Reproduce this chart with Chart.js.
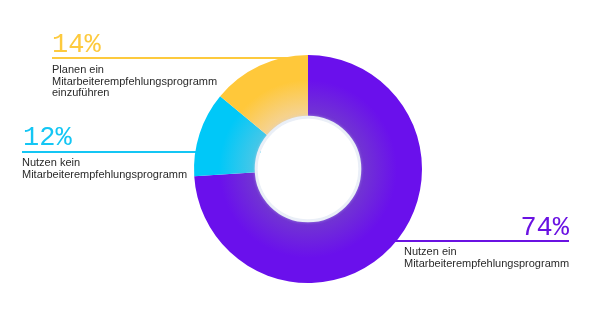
<!DOCTYPE html>
<html><head><meta charset="utf-8">
<script src="https://cdn.jsdelivr.net/npm/chart.js@4.4.0/dist/chart.umd.min.js"></script>
<style>html,body{margin:0;padding:0;background:#fff}#wrap{width:605px;height:311px}</style>
</head><body><div id="wrap"><canvas id="c" width="605" height="311"></canvas></div>
<script>
const categories = ['Nutzen ein Mitarbeiterempfehlungsprogramm', 'Nutzen kein Mitarbeiterempfehlungsprogramm', 'Planen ein Mitarbeiterempfehlungsprogramm einzuführen'];
const labelLines = [['Nutzen ein','Mitarbeiterempfehlungsprogramm'], ['Nutzen kein','Mitarbeiterempfehlungsprogramm'], ['Planen ein','Mitarbeiterempfehlungsprogramm','einzuführen']];
const values = [74, 12, 14];
const outerColors = ['#6a10ec', '#00c8f8', '#ffc83a'];
const innerColors = ['#7238d0', '#4cc7e6', '#f4d49c'];
const lineColors = ['#6a12e2', '#14c6f4', '#fdca3e'];
const CUTOUT = 0.45;

function grad(ctx) {
  const chart = ctx.chart;
  const a = chart.chartArea;
  if (!a) return outerColors[ctx.dataIndex];
  const cx = (a.left + a.right) / 2, cy = (a.top + a.bottom) / 2;
  const R = Math.min(a.right - a.left, a.bottom - a.top) / 2;
  const g = chart.ctx.createRadialGradient(cx, cy, R * CUTOUT, cx, cy, R);
  g.addColorStop(0, innerColors[ctx.dataIndex]);
  g.addColorStop(0.6, outerColors[ctx.dataIndex]);
  g.addColorStop(1, outerColors[ctx.dataIndex]);
  return g;
}

const callouts = {
  id: 'callouts',
  beforeDatasetsDraw(chart) {
    const el = chart.getDatasetMeta(0).data[0];
    const cx = el.x, cy = el.y;
    const c = chart.ctx;
    c.save();
    c.lineWidth = 2;
    const segs = [
      {y: cy + 72, x1: cx, x2: 569},
      {y: cy - 17, x1: 22, x2: cx},
      {y: cy - 111, x1: 52, x2: cx}
    ];
    segs.forEach((s, i) => {
      c.strokeStyle = lineColors[i];
      c.beginPath(); c.moveTo(s.x1, s.y); c.lineTo(s.x2, s.y); c.stroke();
    });
    c.restore();
  },
  afterDatasetsDraw(chart) {
    const el = chart.getDatasetMeta(0).data[0];
    const cx = el.x, cy = el.y, r = el.innerRadius;
    const c = chart.ctx;
    c.save();
    c.shadowColor = 'rgba(200,210,235,0.5)';
    c.shadowBlur = 3;
    c.strokeStyle = '#eaeff7';
    c.lineWidth = 3;
    c.beginPath(); c.arc(cx, cy, r + 0.5, 0, Math.PI * 2); c.stroke();
    c.shadowBlur = 0;
    c.fillStyle = '#fff';
    c.beginPath(); c.arc(cx, cy, r - 1, 0, Math.PI * 2); c.fill();

    const pos = [
      {px: 569, pa: 'right', pb: cy + 66, tx: 404, ty: cy + 83},
      {px: 23, pa: 'left', pb: cy - 24, tx: 22, ty: cy - 6},
      {px: 52, pa: 'left', pb: cy - 117, tx: 52, ty: cy - 99}
    ];
    pos.forEach((p, i) => {
      c.font = '27px "Liberation Mono"';
      c.fillStyle = lineColors[i];
      c.textAlign = p.pa;
      c.textBaseline = 'alphabetic';
      c.fillText(values[i] + '%', p.px, p.pb);
      c.font = '11px "Liberation Sans"';
      c.fillStyle = '#2a2a2a';
      c.textAlign = 'left';
      c.textBaseline = 'middle';
      labelLines[i].forEach((t, k) => c.fillText(t, p.tx, p.ty + k * 11.5));
    });
    c.restore();
  }
};

new Chart(document.getElementById('c'), {
  type: 'doughnut',
  data: {
    labels: categories,
    datasets: [{
      data: values,
      backgroundColor: grad,
      borderWidth: 0,
      hoverOffset: 0
    }]
  },
  options: {
    responsive: false,
    animation: false,
    cutout: (CUTOUT * 100) + '%',
    rotation: 0,
    layout: {padding: {top: 55, bottom: 28, left: 100, right: 89}},
    plugins: {legend: {display: false}, tooltip: {enabled: false}}
  },
  plugins: [callouts]
});
</script>
</body></html>
